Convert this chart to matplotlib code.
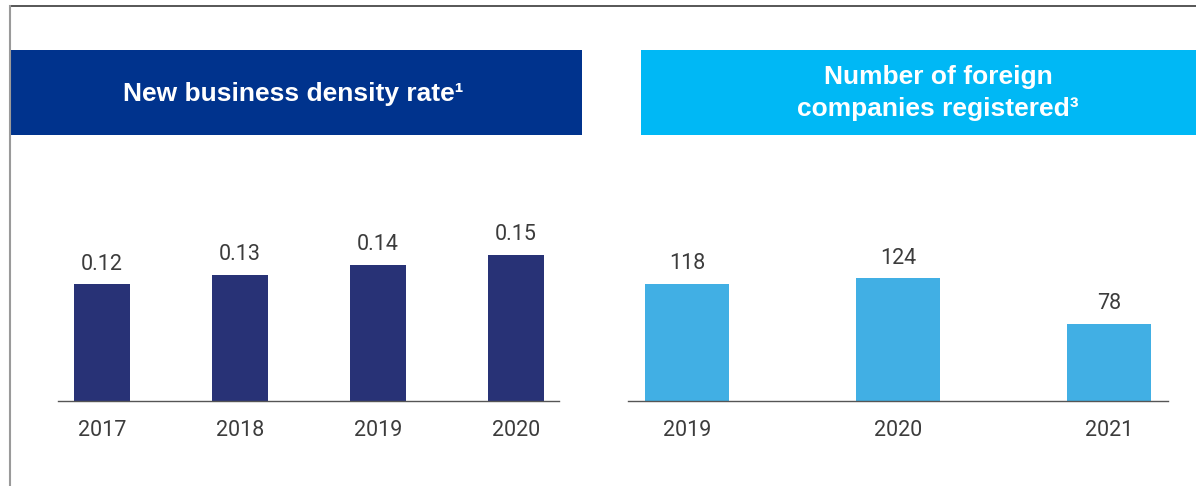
"""Dos paneles de barras: densidad de nuevos negocios y empresas extranjeras."""

import matplotlib.pyplot as plt
from matplotlib.patches import Rectangle
from matplotlib.lines import Line2D

plt.rcParams['font.family'] = ['Roboto', 'DejaVu Sans']

# Datos del panel izquierdo
anios_izq = ['2017', '2018', '2019', '2020']
densidad = [0.12, 0.13, 0.14, 0.15]
etiquetas_izq = ['0.12', '0.13', '0.14', '0.15']

# Datos del panel derecho
anios_der = ['2019', '2020', '2021']
empresas = [118, 124, 78]
etiquetas_der = ['118', '124', '78']

titulo_izq = 'New business density rate\u00b9'
titulo_der = 'Number of foreign\ncompanies registered\u00b3'

W, H = 1196, 486
fig = plt.figure(figsize=(W / 100, H / 100), dpi=100)


def caja(x0, y0, x1, y1):
    # convierte pixeles (origen arriba a la izquierda) a fraccion de figura
    return [x0 / W, 1 - y1 / H, (x1 - x0) / W, (y1 - y0) / H]


# bordes del marco
fig.add_artist(Line2D([10 / W, 1], [1 - 6 / H, 1 - 6 / H], color='#3a3a3a',
                      lw=1.2, transform=fig.transFigure))
fig.add_artist(Line2D([10 / W, 10 / W], [0, 1 - 6 / H], color='#9a9a9a',
                      lw=1.5, transform=fig.transFigure))

# encabezados
r = caja(10, 50, 582, 135)
fig.add_artist(Rectangle((r[0], r[1]), r[2], r[3], color='#00338D',
                         transform=fig.transFigure, lw=0))
r = caja(641, 50, W, 135)
fig.add_artist(Rectangle((r[0], r[1]), r[2], r[3], color='#00B8F5',
                         transform=fig.transFigure, lw=0))
fuente_titulo = ['Liberation Sans', 'DejaVu Sans']
fig.text(293 / W, 1 - 94 / H, titulo_izq, color='white', fontsize=19,
         fontweight='bold', ha='center', va='center', family=fuente_titulo)
fig.text(938 / W, 1 - 93 / H, titulo_der, color='white', fontsize=19,
         fontweight='bold', ha='center', va='center', linespacing=1.4,
         family=fuente_titulo)

texto = '#3c3c3c'


def panel(pos, anios, valores, etiquetas, color, ytop, xlim):
    ax = fig.add_axes(pos)
    x = list(range(len(anios)))
    barras = ax.bar(x, valores, width=0.4, color=color)
    ax.bar_label(barras, labels=etiquetas, padding=7, fontsize=15.5,
                 color=texto)
    ax.set_ylim(0, ytop)
    ax.set_xlim(*xlim)
    ax.set_xticks(x, anios)
    ax.tick_params(length=0, pad=13.5, labelsize=15.5, labelcolor=texto)
    ax.set_yticks([])
    for s in ['top', 'left', 'right']:
        ax.spines[s].set_visible(False)
    ax.spines['bottom'].set_color('#555555')
    ax.spines['bottom'].set_linewidth(1.0)
    return ax


panel(caja(58, 180, 559, 401), anios_izq, densidad, etiquetas_izq,
      '#283276', 221 / 972, (-44 / 138, 3 + 43 / 138))
panel(caja(628, 180, 1168, 401), anios_der, empresas, etiquetas_der,
      '#41AFE4', 221 / 0.99, (-59 / 211, 2 + 59 / 211))

fig.savefig('out.png', dpi=100)
